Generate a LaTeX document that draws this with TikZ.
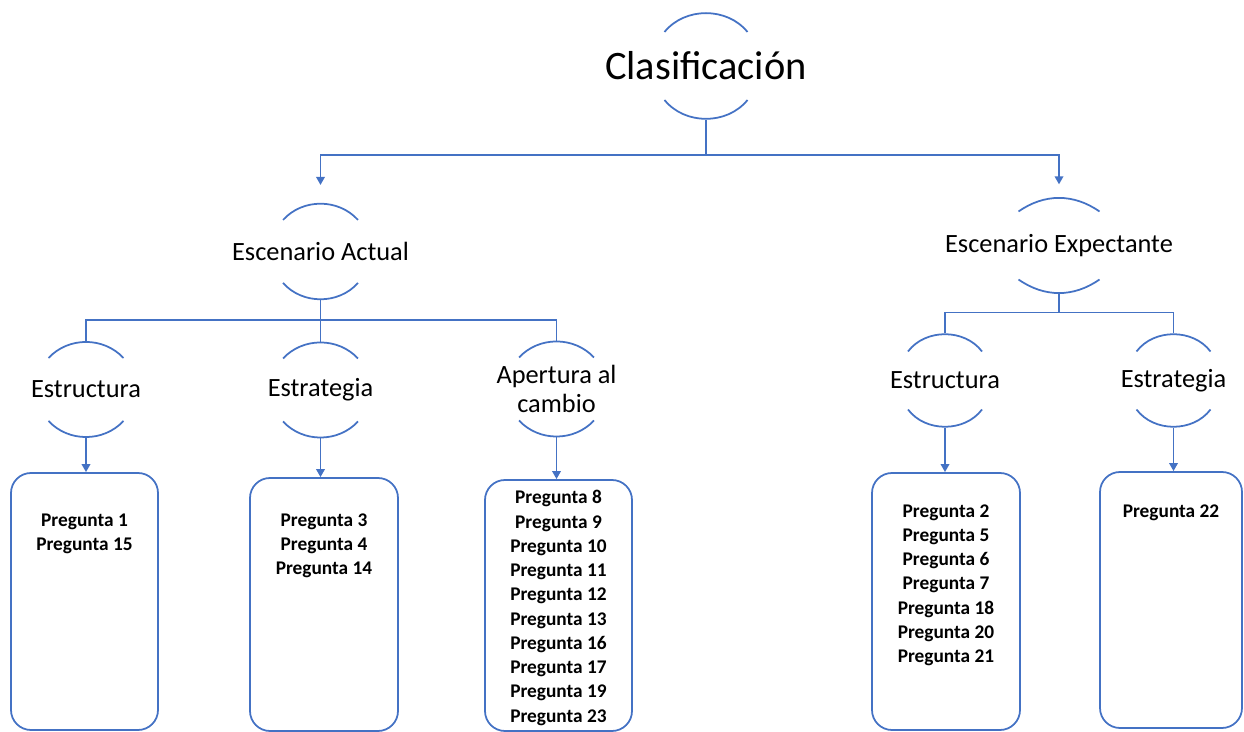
\documentclass[tikz,border=0pt]{standalone}
\usepackage{fontspec}
\setmainfont{Carlito}
\usetikzlibrary{arrows.meta}
\definecolor{azul}{HTML}{4472C4}

\begin{document}
\begin{tikzpicture}[
    linea/.style={draw=azul, line width=1pt},
    flecha/.style={linea, -{Triangle[length=1.6mm,width=1.7mm]}},
    tema/.style n args={3}{inner sep=0pt, align=center, font=\fontsize{15}{17}\selectfont,
        minimum height={2*(#2cm+#1cm*tan(#3/2))},
        append after command={
            ([xshift=-#1cm,yshift=#2cm]\tikzlastnode.center) edge[linea, bend left=#3]
            ([xshift=#1cm,yshift=#2cm]\tikzlastnode.center)
            ([xshift=-#1cm,yshift=-#2cm]\tikzlastnode.center) edge[linea, bend right=#3]
            ([xshift=#1cm,yshift=-#2cm]\tikzlastnode.center)}},
    caja/.style 2 args={draw=azul, line width=1pt, rounded corners=0.4cm, minimum width=#1cm, minimum height=#2cm},
    lista/.style={inner sep=0pt, align=center, anchor=north, font=\fontsize{11}{13.8}\selectfont\bfseries}
]
\useasboundingbox (0,0) rectangle (24.88,14.64);

% Conceptos
\node[tema={0.83}{0.68}{51}, font=\fontsize{23}{28}\selectfont] (clas) at (14.12,13.32) {Clasificación};
\node[tema={0.75}{0.63}{48}] (actual) at (6.41,9.61) {Escenario Actual};
\node[tema={0.81}{0.68}{35}] (expect) at (21.18,9.73) {Escenario Expectante};

\node[tema={0.75}{0.63}{47}] (ae1) at (1.72,6.85) {Estructura};
\node[tema={0.75}{0.63}{47}] (ae2) at (6.41,6.84) {Estrategia};
\node[tema={0.75}{0.63}{47}] (ae3) at (11.13,6.86) {Apertura al\\cambio};
\node[tema={0.74}{0.58}{53}] (ee1) at (18.90,7.03) {Estructura};
\node[tema={0.74}{0.58}{53}] (ee2) at (23.47,7.03) {Estrategia};

% Cajas de preguntas
\node[caja={2.94}{5.14}] (c1) at (1.69,2.61) {};
\node[caja={2.96}{5.06}] (c2) at (6.48,2.55) {};
\node[caja={2.94}{5.02}] (c3) at (11.17,2.53) {};
\node[caja={2.96}{5.14}] (c4) at (18.92,2.61) {};
\node[caja={2.84}{5.12}] (c5) at (23.42,2.64) {};

\node[lista] (p1) at ([yshift=-0.82cm]c1.north) {Pregunta 1\\Pregunta 15};
\node[lista] (p2) at ([yshift=-0.72cm]c2.north) {Pregunta 3\\Pregunta 4\\Pregunta 14};
\node[lista] (p3) at ([yshift=-0.22cm]c3.north) {Pregunta 8\\Pregunta 9\\Pregunta 10\\Pregunta 11\\Pregunta 12\\Pregunta 13\\Pregunta 16\\Pregunta 17\\Pregunta 19\\Pregunta 23};
\node[lista] (p4) at ([yshift=-0.64cm]c4.north) {Pregunta 2\\Pregunta 5\\Pregunta 6\\Pregunta 7\\Pregunta 18\\Pregunta 20\\Pregunta 21};
\node[lista] (p5) at ([yshift=-0.66cm]c5.north) {Pregunta 22};

% Conectores
\draw[flecha, shorten >=0.36cm] (clas.south) -- ++(0,-0.7) -| (actual.north);
\draw[flecha, shorten >=0.28cm] (clas.south) -- ++(0,-0.7) -| (expect.north);
\foreach \n in {ae1,ae2,ae3}
    \draw[linea] (actual.south) -- ++(0,-0.4) -| (\n.north);
\foreach \n in {ee1,ee2}
    \draw[linea] (expect.south) -- ++(0,-0.4) -| (\n.north);
\foreach \t/\c in {ae1/c1,ae2/c2,ae3/c3,ee1/c4,ee2/c5}
    \draw[flecha] (\t.south) -- (\t.south |- \c.north);

\end{tikzpicture}
\end{document}
